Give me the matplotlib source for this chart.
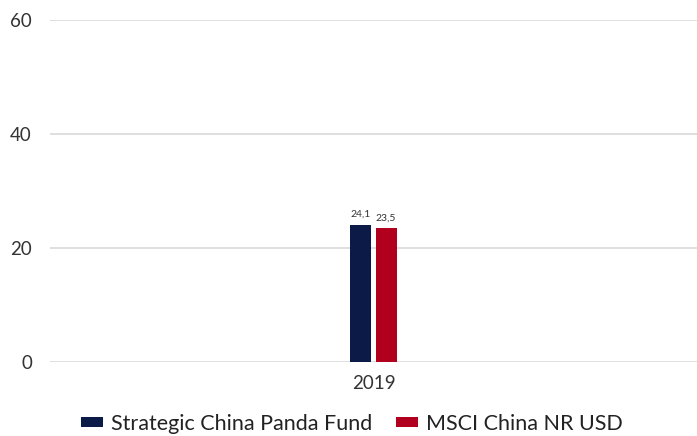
import matplotlib
matplotlib.use("Agg")
import matplotlib.pyplot as plt
import numpy as np

plt.rcParams['font.family'] = ['Lato', 'DejaVu Sans']

categories = ["2019"]
series_names = ["Strategic China Panda Fund", "MSCI China NR USD"]
fund_values = [24.1]
index_values = [23.5]
colors = ["#0b1a47", "#b0001e"]
yticks = [0, 20, 40, 60]

fig = plt.figure(figsize=(6.97, 4.36), dpi=100)
ax = fig.add_axes([50/697, (436-362)/436, 647/697, 342/436])

x = np.arange(len(categories))
w = 0.0325
gap = 0.0062
b1 = ax.bar(x - (w+gap)/2, fund_values, w, color=colors[0], label=series_names[0], zorder=3)
b2 = ax.bar(x + (w+gap)/2, index_values, w, color=colors[1], label=series_names[1], zorder=3)

for bars, vals in ((b1, fund_values), (b2, index_values)):
    for r, v in zip(bars, vals):
        ax.text(r.get_x() + r.get_width()/2, v + 1.0, f"{v:.1f}".replace('.', ','),
                ha='center', va='bottom', fontsize=7.5, color='#333333')

ax.set_xlim(-0.5, 0.5)
ax.set_ylim(0, 60)
ax.set_yticks(yticks)
ax.set_xticks(x)
ax.set_xticklabels(categories)
ax.grid(axis='y', color='#d9d9d9', linewidth=1.2, zorder=0)
for s in ax.spines.values():
    s.set_visible(False)
ax.tick_params(axis='both', length=0, labelsize=13.5, colors='#333333')
ax.tick_params(axis='y', pad=13)
ax.tick_params(axis='x', pad=9)
for lbl in ax.get_yticklabels():
    lbl.set_horizontalalignment('right')

leg = fig.legend(loc='lower center', bbox_to_anchor=(0.505, -0.04), ncol=2, frameon=False,
                 fontsize=15.5, handlelength=1.0, handleheight=0.35, handletextpad=0.4,
                 columnspacing=1.1)
for t in leg.get_texts():
    t.set_color('#222222')

fig.savefig("out.png", dpi=100)
